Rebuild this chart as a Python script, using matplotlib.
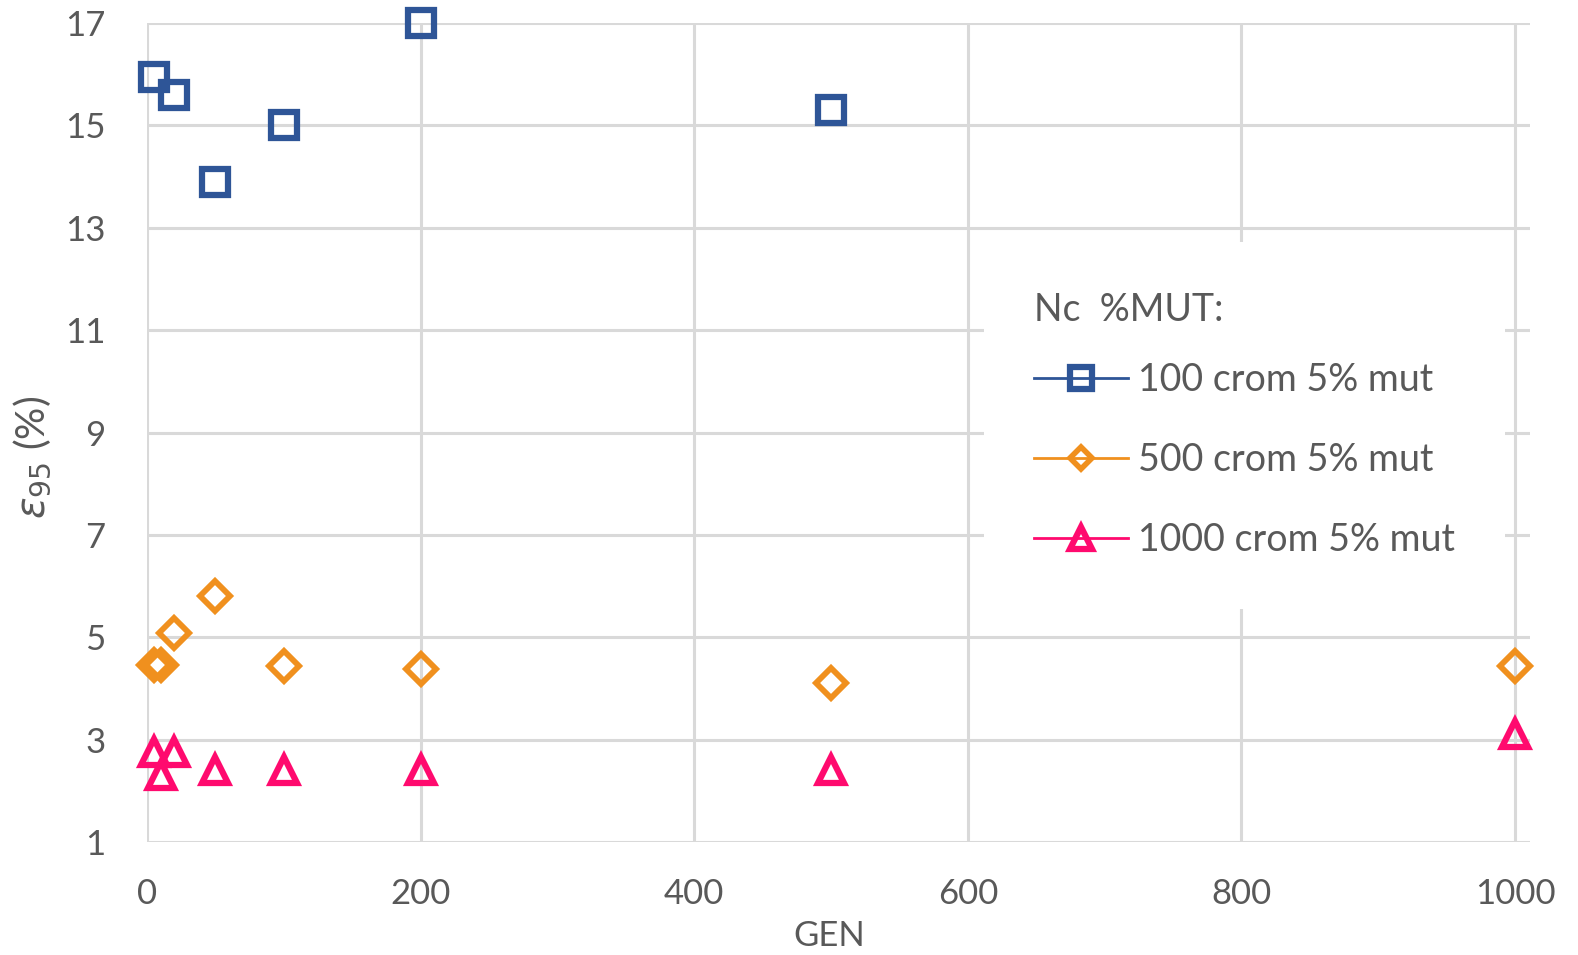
import matplotlib
matplotlib.use("Agg")
import matplotlib.pyplot as plt
from matplotlib.lines import Line2D

plt.rcParams['font.family'] = ['Lato', 'DejaVu Sans']
plt.rcParams['mathtext.fontset'] = 'dejavusans'

# generazioni
gen_100 = [5, 20, 50, 100, 200, 500]
eps_100 = [15.95, 15.6, 13.9, 15.0, 17.0, 15.3]

gen_500 = [5, 10, 20, 50, 100, 200, 500, 1000]
eps_500 = [4.45, 4.45, 5.08, 5.8, 4.44, 4.38, 4.1, 4.44]

gen_1000 = [5, 10, 20, 50, 100, 200, 500, 1000]
eps_1000 = [2.75, 2.3, 2.75, 2.4, 2.4, 2.4, 2.4, 3.12]

labels = ["100 crom 5% mut", "500 crom 5% mut", "1000 crom 5% mut"]
xticks = [0, 200, 400, 600, 800, 1000]
yticks = [1, 3, 5, 7, 9, 11, 13, 15, 17]

grigio = "#595959"
blu = "#2E5597"
arancio = "#F0901E"
rosa = "#FF0A6E"
fs = 25

fig = plt.figure(figsize=(15.78, 9.55), dpi=100)
ax = fig.add_axes([0.0932, 0.1183, 0.8764, 0.8576])

ax.plot(gen_100, eps_100, linestyle="none", marker="s", ms=19, mew=4.5,
        mec=blu, mfc="none", color=blu, label=labels[0], clip_on=False, zorder=3)
ax.plot(gen_500, eps_500, linestyle="none", marker="D", ms=15, mew=4.2,
        mec=arancio, mfc="none", color=arancio, label=labels[1], clip_on=False, zorder=3)
ax.plot(gen_1000, eps_1000, linestyle="none", marker="^", ms=19, mew=4.5,
        mec=rosa, mfc="none", color=rosa, label=labels[2], clip_on=False, zorder=3)

ax.set_xlim(0, 1011)
ax.set_ylim(1, 17)
ax.set_xticks(xticks)
ax.set_yticks(yticks)
ax.tick_params(length=0, labelsize=fs, labelcolor=grigio)
ax.tick_params(axis="y", pad=30)
ax.tick_params(axis="x", pad=26)
ax.grid(True, color="#D9D9D9", linewidth=2.2)
ax.set_axisbelow(True)
for s in ax.spines.values():
    s.set_visible(False)

ax.set_xlabel("GEN", fontsize=fs, color=grigio)
ax.xaxis.set_label_coords(0.493, -0.095, transform=ax.transAxes)
ax.set_ylabel(r"$\varepsilon_{95}$ (%)", fontsize=fs + 4, color=grigio)
ax.yaxis.set_label_coords(-0.068, 0.47, transform=ax.transAxes)

# legenda con linea + marker
handles = [
    Line2D([], [], color=blu, lw=2, marker="s", ms=16, mew=4.5, mfc="none"),
    Line2D([], [], color=arancio, lw=2, marker="D", ms=11, mew=4, mfc="none"),
    Line2D([], [], color=rosa, lw=2, marker="^", ms=16, mew=4.5, mfc="none"),
]
leg = ax.legend(handles, labels, title="Nc  %MUT:", loc="upper left",
                bbox_to_anchor=(0.605, 0.733), fontsize=fs + 2, title_fontsize=fs + 2,
                alignment="left", frameon=True, fancybox=False,
                handlelength=2.5, handletextpad=0.25, labelspacing=1.18,
                borderpad=1.35, borderaxespad=0)
leg._legend_box.sep = 24
leg.get_frame().set_facecolor("white")
leg.get_frame().set_edgecolor("none")
leg.get_frame().set_alpha(1)
leg.get_title().set_color(grigio)
for t in leg.get_texts():
    t.set_color(grigio)

fig.savefig("out.png", dpi=100)
